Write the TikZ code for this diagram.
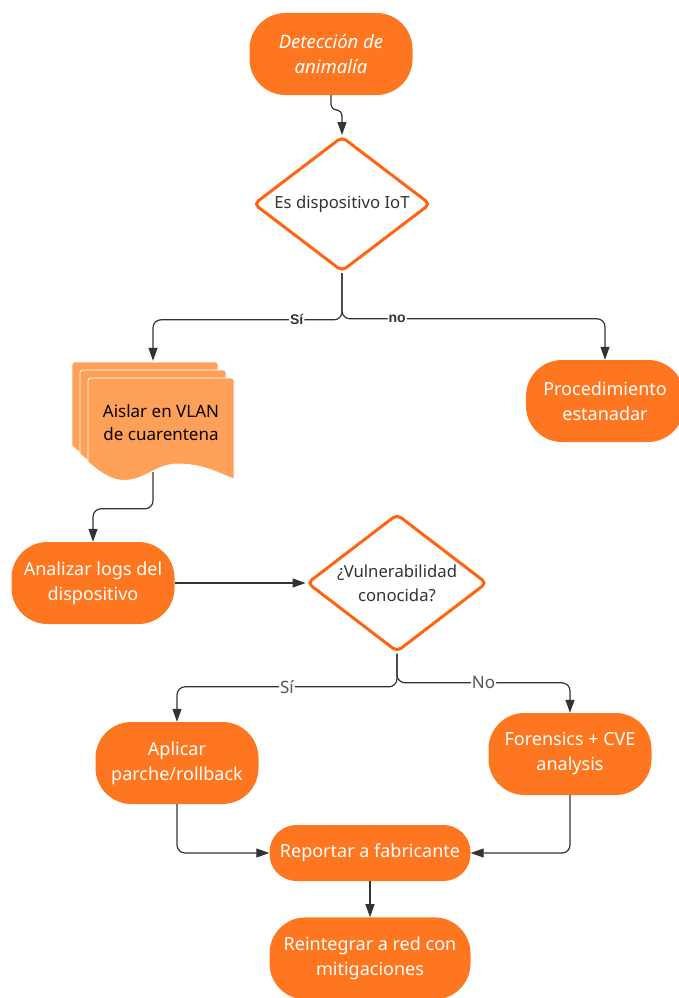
\documentclass[tikz,border=0pt]{standalone}
\usepackage{fontspec}
\setmainfont{Noto Sans}
\newfontfamily\lblfont{Liberation Sans}
\usetikzlibrary{shapes,arrows.meta,positioning,calc}
\definecolor{orfill}{RGB}{255,118,32}
\definecolor{orline}{RGB}{255,100,18}
\definecolor{docfill}{RGB}{255,160,88}
\definecolor{linegray}{RGB}{51,51,51}
\definecolor{lblgray}{RGB}{85,85,85}

\begin{document}
\begin{tikzpicture}[
    x=1pt, y=-1pt,
    term/.style={rectangle, rounded corners=36pt, fill=orfill, text=white, minimum width=163pt, minimum height=82pt, inner sep=2pt, align=center, font=\fontsize{18}{25}\selectfont},
    decision/.style={diamond, draw=orline, line width=3pt, fill=white, rounded corners=5pt, inner sep=0pt, aspect=1.3, text=linegray, align=center, font=\fontsize{16.7}{24}\selectfont},
    docpage/.style={fill=docfill, draw=white, line width=0.8pt},
    arr/.style={draw=linegray, line width=1.2pt, rounded corners=8pt, -{Triangle[length=13pt,width=9pt]}},
    lbl/.style={fill=white, inner sep=1pt, text=linegray, font=\lblfont\fontsize{14}{16}\selectfont\bfseries},
    lbltwo/.style={fill=white, inner sep=1pt, text=lblgray, font=\fontsize{17}{18}\selectfont}
]
    \useasboundingbox (0,0) rectangle (678,998);

    % stacked documents
    \foreach \d in {0,8,16} {
        \begin{scope}[shift={(\d,\d)}]
            \path[docpage] (72,446) -- (72,368) .. controls (72,362) .. (78,362) -- (212,362)
                .. controls (218,362) .. (218,368) -- (218,463)
                .. controls (202,457) and (187,448) .. (162,448)
                .. controls (142,448) and (132,461) .. (114,464)
                .. controls (102,466) and (90,462) .. (72,446) -- cycle;
        \end{scope}
    }

    \node[term, font=\fontsize{18.5}{25}\selectfont\itshape] (det) at (331,54) {Detección de\\animalía};
    \node[decision, minimum width=177pt, minimum height=135pt] (iot) at (342,204) {Es dispositivo IoT};
    \node[minimum width=162pt, minimum height=120pt, inner sep=0pt] (isl) at (153,421) {};
    \node[align=center, font=\fontsize{17}{23}\selectfont] (isltxt) at (161,423) {Aislar en VLAN\\de cuarentena};
    \node[term, minimum width=158pt] (pro) at (605,401) {Procedimiento\\estanadar};
    \node[term] (ana) at (93,583) {Analizar logs del\\dispositivo};
    \node[decision, minimum width=180pt, minimum height=138pt] (vul) at (397,583) {¿Vulnerabilidad\\conocida?};
    \node[term] (apl) at (177,763) {Aplicar\\parche/rollback};
    \node[term] (for) at (570,754) {Forensics + CVE\\analysis};
    \node[term, minimum width=201pt, minimum height=56pt, rounded corners=27pt] (rep) at (370,853) {Reportar a fabricante};
    \node[term, minimum width=201pt, below=36pt of rep] (rei) {Reintegrar a red con\\mitigaciones};

    \draw[arr, rounded corners=6pt] (det.south) |- ([yshift=25pt]iot.north) -- (iot.north);
    \draw[arr] (iot.south) |- node[lbl, pos=0.62] {Sí} ([yshift=41pt]isl.north) -- (isl.north);
    \draw[arr] (iot.south) |- node[lbl, pos=0.605] {no} ([yshift=41pt]pro.north) -- (pro.north);
    \draw[arr] ([yshift=9pt]isl.south) |- ([yshift=33pt]ana.north) -- (ana.north);
    \draw[arr] (ana) -- (vul);
    \draw[arr] (vul.south) |- node[lbltwo, pos=0.75] {Sí} ([yshift=35pt]apl.north) -- (apl.north);
    \draw[arr] (vul.south) |- node[lbltwo, pos=0.75] {No} ([yshift=30pt]for.north) -- (for.north);
    \draw[arr] (apl.south) |- (rep.west);
    \draw[arr] (for.south) |- (rep.east);
    \draw[arr] (rep) -- (rei);
\end{tikzpicture}
\end{document}
